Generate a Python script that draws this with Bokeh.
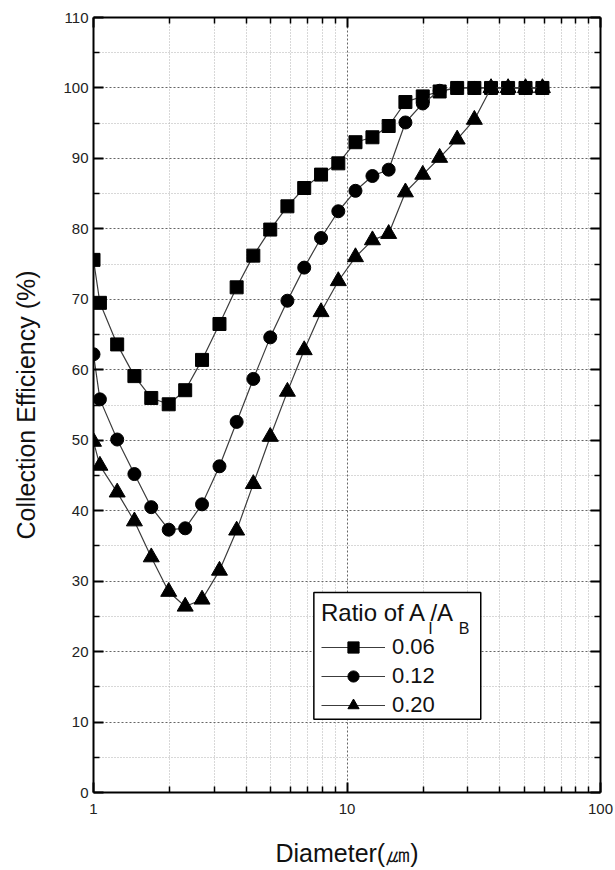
from bokeh.plotting import figure
from bokeh.models import (FixedTicker, LinearAxis, LogAxis, Legend, LegendItem,
                          Label, PrintfTickFormatter, Range1d, BoxAnnotation)
from bokeh.embed import file_html
from bokeh.resources import INLINE

# ---------------- data ----------------
diameter = [1.0, 1.06, 1.24, 1.45, 1.69, 1.98, 2.30, 2.68, 3.14, 3.67, 4.27, 4.98,
            5.82, 6.78, 7.90, 9.24, 10.8, 12.6, 14.6, 17.0, 19.9, 23.2, 27.2, 31.8,
            37.0, 43.2, 50.6, 59.0]
eff_006 = [75.6, 69.5, 63.6, 59.1, 56.0, 55.1, 57.1, 61.4, 66.5, 71.7, 76.2, 79.9,
           83.2, 85.8, 87.7, 89.3, 92.3, 93.0, 94.6, 98.0, 98.8, 99.5, 100, 100,
           100, 100, 100, 100]
eff_012 = [62.2, 55.8, 50.1, 45.2, 40.5, 37.3, 37.5, 40.9, 46.3, 52.6, 58.7, 64.6,
           69.8, 74.5, 78.7, 82.5, 85.4, 87.5, 88.4, 95.1, 97.8, 99.6, 100, 100,
           100, 100, 100, 100]
eff_020 = [49.8, 46.4, 42.6, 38.5, 33.4, 28.5, 26.4, 27.4, 31.5, 37.2, 43.8, 50.5,
           56.9, 62.8, 68.2, 72.6, 76.0, 78.4, 79.3, 85.2, 87.7, 90.1, 92.7, 95.5,
           100, 100, 100, 100]
series_labels = ["0.06", "0.12", "0.20"]
x_ticks = [1, 10, 100]
x_minor = [2, 3, 4, 5, 6, 7, 8, 9, 20, 30, 40, 50, 60, 70, 80, 90]
y_ticks = list(range(0, 111, 10))
y_minor = list(range(5, 110, 10))

FONT = "Liberation Sans"

p = figure(width=615, height=870, x_axis_type="log",
           x_range=Range1d(1, 100), y_range=Range1d(0, 110),
           output_backend="svg", toolbar_location=None,
           min_border_left=93, min_border_right=15, min_border_top=17,
           min_border_bottom=78,
           x_axis_label="Diameter(㎛)", y_axis_label="Collection Efficiency (%)")
p.outline_line_color = None
p.background_fill_color = "white"

xaxis_b = p.below[0]
yaxis_l = p.left[0]

xticker = FixedTicker(ticks=x_ticks, minor_ticks=x_minor)
yticker = FixedTicker(ticks=y_ticks, minor_ticks=y_minor)

xaxis_b.ticker = xticker
yaxis_l.ticker = yticker
xaxis_b.formatter = PrintfTickFormatter(format="%d")
p.xgrid.ticker = xticker
p.ygrid.ticker = yticker

for g in (p.xgrid, p.ygrid):
    g.grid_line_color = "#666666"
    g.grid_line_dash = "2 2"
    g.grid_line_width = 1
    g.minor_grid_line_color = "#b0b0b0"
    g.minor_grid_line_dash = "1 2"
    g.minor_grid_line_width = 1

top_axis = LogAxis(ticker=xticker, formatter=PrintfTickFormatter(format="%d"))
right_axis = LinearAxis(ticker=yticker)
p.add_layout(top_axis, "above")
p.add_layout(right_axis, "right")

for ax in (xaxis_b, yaxis_l, top_axis, right_axis):
    ax.axis_line_color = "black"
    ax.axis_line_width = 2
    ax.major_tick_line_color = "black"
    ax.major_tick_line_width = 2
    ax.minor_tick_line_color = "black"
    ax.minor_tick_line_width = 1.5
    ax.major_tick_in = 10
    ax.major_tick_out = 0
    ax.minor_tick_in = 6
    ax.minor_tick_out = 0
    ax.major_label_text_font = FONT
    ax.major_label_text_font_size = "15px"
    ax.major_label_text_color = "#222222"
    ax.axis_label_text_font = FONT
    ax.axis_label_text_font_size = "25px"
    ax.axis_label_text_font_style = "normal"
    ax.axis_label_text_color = "#111111"

# mirrored axes: ticks only, labels not painted
for ax in (top_axis, right_axis):
    ax.major_label_text_font_size = "1px"
    ax.major_label_text_color = None
    ax.major_label_standoff = 0

xaxis_b.major_label_standoff = 11
xaxis_b.axis_label_standoff = 22
yaxis_l.major_label_standoff = 5
yaxis_l.axis_label_standoff = 20

styles = [("square", 13, eff_006), ("circle", 13, eff_012), ("triangle", 16, eff_020)]
items = []
for (marker, size, vals), lab in zip(styles, series_labels):
    lr = p.line(diameter, vals, line_color="#3c3c3c", line_width=1.2)
    sr = p.scatter(diameter, vals, marker=marker, size=size,
                   fill_color="black", line_color="black")
    items.append(LegendItem(label=lab, renderers=[lr, sr]))

# legend frame (white box with black border) drawn beneath the transparent legend
legend_box = BoxAnnotation(left=7.4, right=33.7, bottom=10.4, top=28.4,
                           fill_color="white", fill_alpha=1.0,
                           line_color="black", line_width=1.5, line_alpha=1.0)
p.add_layout(legend_box)

# subscripts of the legend title (A_I / A_B)
sub_I = Label(x=20.9, y=23.3, text="I",
              text_font=FONT, text_font_size="16px", text_color="#111111",
              text_baseline="alphabetic", text_align="left")
sub_B = Label(x=27.6, y=23.3, text="B",
              text_font=FONT, text_font_size="16px", text_color="#111111",
              text_baseline="alphabetic", text_align="left")
p.add_layout(sub_I)
p.add_layout(sub_B)

legend = Legend(items=items, location=(228, 73), title="Ratio of A /A",
                title_text_font=FONT, title_text_font_size="24px",
                title_text_font_style="normal", title_text_color="#111111",
                title_standoff=6,
                label_text_font=FONT, label_text_font_size="22px",
                label_text_color="#111111",
                glyph_width=64, glyph_height=28, label_height=28,
                label_standoff=7, spacing=1, padding=7, margin=0,
                border_line_color=None, background_fill_alpha=0)
p.add_layout(legend)

open("out.html", "w").write(file_html(p, INLINE))
